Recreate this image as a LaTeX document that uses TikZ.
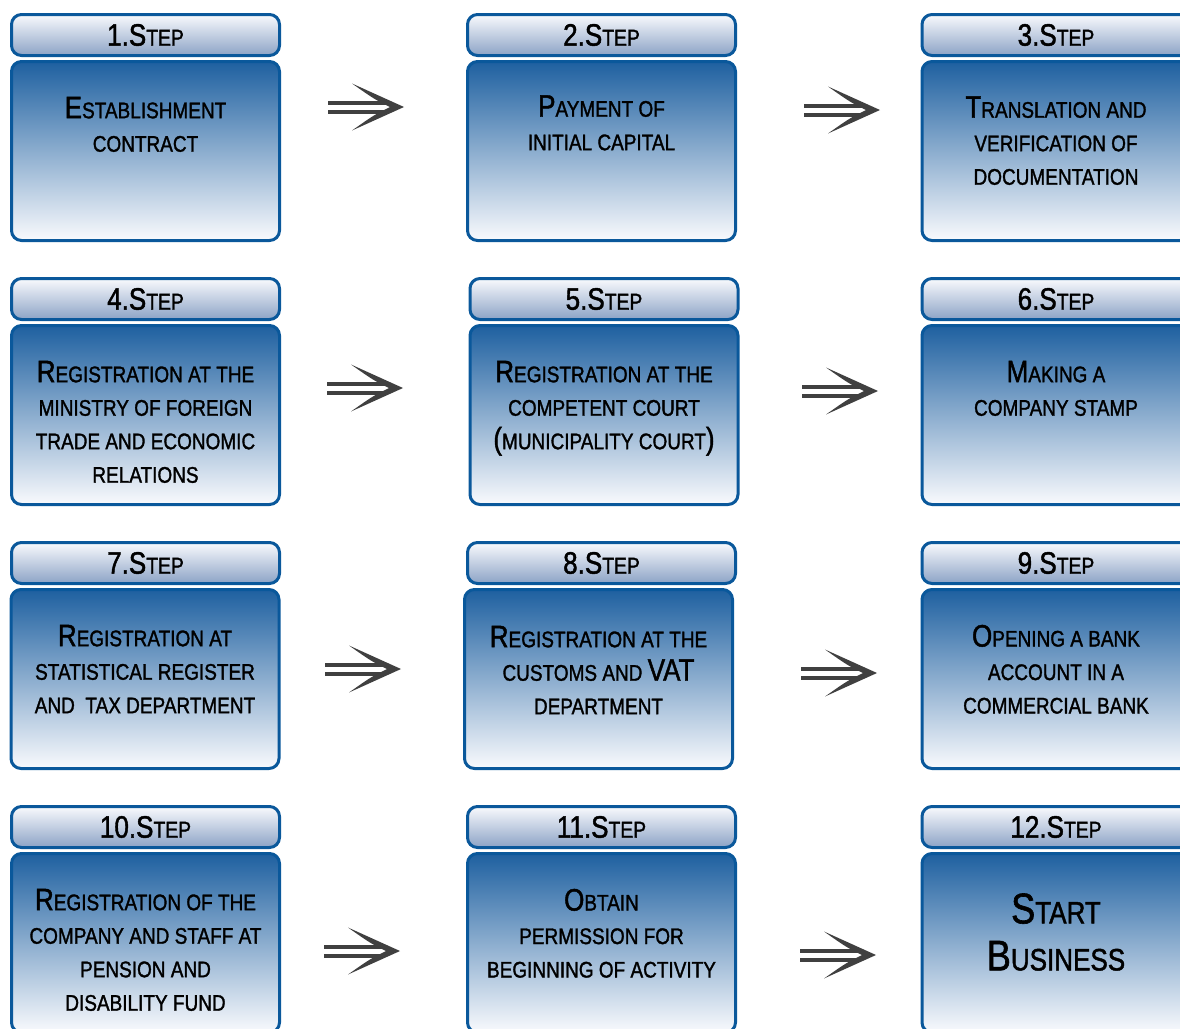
\documentclass[tikz,border=0pt]{standalone}
\usepackage{fontspec}
\setmainfont{Liberation Sans}[FakeStretch=0.84, FakeBold=1.4]
\usetikzlibrary{calc, positioning}
\definecolor{frame}{RGB}{10, 88, 155}
\definecolor{deepblue}{RGB}{30, 96, 160}
\definecolor{midblue}{RGB}{170, 188, 214}
\definecolor{paleblue}{RGB}{249, 250, 253}
\definecolor{headlow}{RGB}{140, 163, 198}
\definecolor{arrowgray}{RGB}{64, 64, 64}
\newcommand{\Cap}[1]{{\fontsize{15.5}{16.75}\selectfont #1}}

\begin{document}
\begin{tikzpicture}[
	x=0.5pt, y=-0.5pt,
	% Styles
	stephead/.style={draw=frame, line width=1.5pt, rounded corners=5pt, minimum width=134pt, minimum height=20.5pt, inner sep=0pt, top color=paleblue, bottom color=headlow, font=\fontsize{11.5}{14}\selectfont},
	stepbody/.style={draw=frame, line width=1.5pt, rounded corners=5pt, minimum width=134pt, minimum height=89.5pt, top color=deepblue, middle color=midblue, bottom color=paleblue},
	steptext/.style={anchor=north, align=center, inner sep=0pt, font=\fontsize{11.3}{16.75}\selectfont},
	pics/steparrow/.style={code={
		\fill[arrowgray] (0,0) -- (-52,-23.5) .. controls (-30,-8) .. (-14,0) .. controls (-30,8) .. (-52,23.5) -- cycle;
		\fill[arrowgray] (-76,-6.5) rectangle (-16,-2.5);
		\fill[arrowgray] (-76,2.5) rectangle (-16,6.5);
	}}
	]
	\useasboundingbox (0,0) rectangle (1180,1029);
	\clip (0,0) rectangle (1180,1029);
	
	% ==========================================
	% ROW 1
	% ==========================================
	\node[stephead] (head1) at (145.5, 35) {\Cap{1.S}TEP};
	\node[stepbody] (box1) at (145.5, 151) {};
	\node[steptext] (txt1) at ($(box1.north)+(0,36.5)$) {\Cap{E}STABLISHMENT\\CONTRACT};
	
	\node[stephead] (head2) at (601.5, 35) {\Cap{2.S}TEP};
	\node[stepbody] (box2) at (601.5, 151) {};
	\node[steptext] (txt2) at ($(box2.north)+(0,35)$) {\Cap{P}AYMENT OF\\INITIAL CAPITAL};
	
	\node[stephead] (head3) at (1056, 35) {\Cap{3.S}TEP};
	\node[stepbody] (box3) at (1056, 151) {};
	\node[steptext] (txt3) at ($(box3.north)+(0,36)$) {\Cap{T}RANSLATION AND\\VERIFICATION OF\\DOCUMENTATION};
	
	\pic (arr12) at (404, 107) {steparrow};
	\pic (arr23) at (880, 110) {steparrow};
	
	% ==========================================
	% ROW 2
	% ==========================================
	\node[stephead] (head4) at (145.5, 299) {\Cap{4.S}TEP};
	\node[stepbody] (box4) at (145.5, 415) {};
	\node[steptext] (txt4) at ($(box4.north)+(0,36.5)$) {\Cap{R}EGISTRATION AT THE\\MINISTRY OF FOREIGN\\TRADE AND ECONOMIC\\RELATIONS};
	
	\node[stephead] (head5) at (604, 299) {\Cap{5.S}TEP};
	\node[stepbody] (box5) at (604, 415) {};
	\node[steptext] (txt5) at ($(box5.north)+(0,36.5)$) {\Cap{R}EGISTRATION AT THE\\COMPETENT COURT\\\Cap{(}MUNICIPALITY COURT\Cap{)}};
	
	\node[stephead] (head6) at (1056, 299) {\Cap{6.S}TEP};
	\node[stepbody] (box6) at (1056, 415) {};
	\node[steptext] (txt6) at ($(box6.north)+(0,36.5)$) {\Cap{M}AKING A\\COMPANY STAMP};
	
	\pic (arr45) at (403, 388) {steparrow};
	\pic (arr56) at (878, 391) {steparrow};
	
	% ==========================================
	% ROW 3
	% ==========================================
	\node[stephead] (head7) at (145.5, 563) {\Cap{7.S}TEP};
	\node[stepbody] (box7) at (145, 679) {};
	\node[steptext] (txt7) at ($(box7.north)+(0,36.5)$) {\Cap{R}EGISTRATION AT\\STATISTICAL REGISTER\\AND\ \ TAX DEPARTMENT};
	
	\node[stephead] (head8) at (601.5, 563) {\Cap{8.S}TEP};
	\node[stepbody] (box8) at (598.5, 679) {};
	\node[steptext] (txt8) at ($(box8.north)+(0,37.5)$) {\Cap{R}EGISTRATION AT THE\\CUSTOMS AND \Cap{VAT}\\DEPARTMENT};
	
	\node[stephead] (head9) at (1056, 563) {\Cap{9.S}TEP};
	\node[stepbody] (box9) at (1056, 679) {};
	\node[steptext] (txt9) at ($(box9.north)+(0,36.5)$) {\Cap{O}PENING A BANK\\ACCOUNT IN A\\COMMERCIAL BANK};
	
	\pic (arr78) at (401, 669) {steparrow};
	\pic (arr89) at (877, 673) {steparrow};
	
	% ==========================================
	% ROW 4
	% ==========================================
	\node[stephead] (head10) at (145.5, 827) {\Cap{10.S}TEP};
	\node[stepbody] (box10) at (145.5, 943) {};
	\node[steptext] (txt10) at ($(box10.north)+(0,36.5)$) {\Cap{R}EGISTRATION OF THE\\COMPANY AND STAFF AT\\PENSION AND\\DISABILITY FUND};
	
	\node[stephead] (head11) at (601.5, 827) {\Cap{11.S}TEP};
	\node[stepbody] (box11) at (601.5, 943) {};
	\node[steptext] (txt11) at ($(box11.north)+(0,36.5)$) {\Cap{O}BTAIN\\PERMISSION FOR\\BEGINNING OF ACTIVITY};
	
	\node[stephead] (head12) at (1056, 827) {\Cap{12.S}TEP};
	\node[stepbody] (box12) at (1056, 943) {};
	\node[steptext, font=\fontsize{15.5}{23.5}\selectfont] (txt12) at ($(box12.north)+(0,41)$) {{\fontsize{21.5}{23.5}\selectfont S}TART\\{\fontsize{21.5}{23.5}\selectfont B}USINESS};
	
	\pic (arr1011) at (400, 951) {steparrow};
	\pic (arr1112) at (876, 955) {steparrow};
	
\end{tikzpicture}
\end{document}
